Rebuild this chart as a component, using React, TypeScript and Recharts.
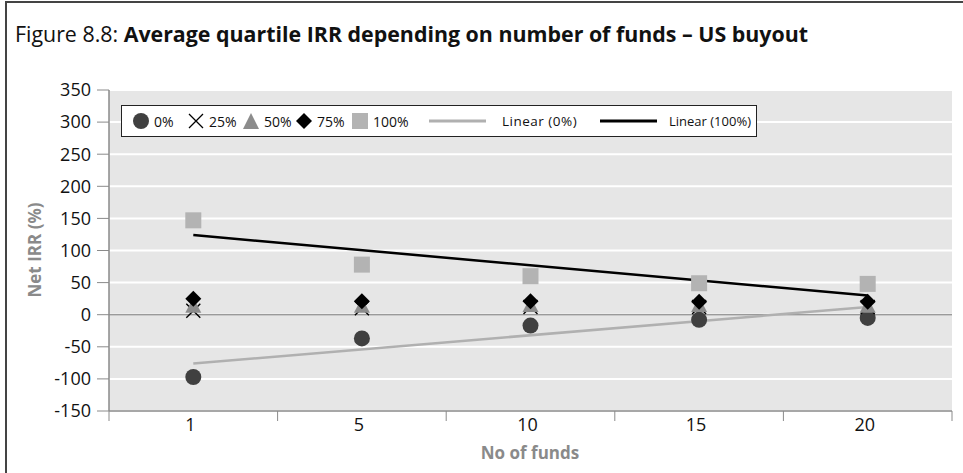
import React from "react";
import {
  ComposedChart,
  Line,
  XAxis,
  YAxis,
  CartesianGrid,
  ReferenceLine,
} from "recharts";

// number of funds (categories)
const funds = ["1", "5", "10", "15", "20"];

// average quartile IRR (%)
const q0 = [-97, -37, -17, -8, -5];
const q25 = [6, 10, 12, 12, 12];
const q50 = [14, 14, 15, 15, 14];
const q75 = [25, 21, 21, 20, 20];
const q100 = [147, 78, 60, 49, 48];

// excel linear trendlines, endpoints
const linear0 = [-76, null, null, null, 12];
const linear100 = [124, null, null, null, 30];

const yTicks = [-150, -100, -50, 0, 50, 100, 150, 200, 250, 300, 350];

const data = funds.map((n, i) => ({
  n,
  q0: q0[i],
  q25: q25[i],
  q50: q50[i],
  q75: q75[i],
  q100: q100[i],
  lin0: linear0[i],
  lin100: linear100[i],
}));

const PLOT_LEFT = 109;
const PLOT_RIGHT = 952;
const BAND = (PLOT_RIGHT - PLOT_LEFT) / funds.length;
const AXIS_GREY = "#8a8a8a";
const FONT = "'Open Sans', sans-serif";

type DotProps = { cx?: number; cy?: number; index?: number };

const Circle = ({ cx, cy, index }: DotProps) =>
  cx == null || cy == null ? null : (
    <circle key={index} cx={cx} cy={cy} r={8} fill="#404040" />
  );

const Cross = ({ cx, cy, index }: DotProps) =>
  cx == null || cy == null ? null : (
    <path
      key={index}
      d={`M${cx - 7},${cy - 7}L${cx + 7},${cy + 7}M${cx + 7},${cy - 7}L${cx - 7},${cy + 7}`}
      stroke="#000"
      strokeWidth={1.4}
      fill="none"
    />
  );

const Triangle = ({ cx, cy, index }: DotProps) =>
  cx == null || cy == null ? null : (
    <path
      key={index}
      d={`M${cx},${cy - 8}L${cx + 8},${cy + 7}L${cx - 8},${cy + 7}Z`}
      fill="#8c8c8c"
    />
  );

const Diamond = ({ cx, cy, index }: DotProps) =>
  cx == null || cy == null ? null : (
    <path
      key={index}
      d={`M${cx},${cy - 8}L${cx + 8},${cy}L${cx},${cy + 8}L${cx - 8},${cy}Z`}
      fill="#000"
    />
  );

const Square = ({ cx, cy, index }: DotProps) =>
  cx == null || cy == null ? null : (
    <rect key={index} x={cx - 8} y={cy - 8} width={16} height={16} fill="#b3b3b3" />
  );

// category labels centred, tick marks on the band boundaries
const FundTick = (props: any) => {
  const { x, y, payload, index } = props;
  return (
    <g>
      <line x1={x - BAND / 2} x2={x - BAND / 2} y1={y} y2={y + 10} stroke={AXIS_GREY} />
      {index === funds.length - 1 && (
        <line x1={x + BAND / 2} x2={x + BAND / 2} y1={y} y2={y + 10} stroke={AXIS_GREY} />
      )}
      <text
        x={x - 3}
        y={y + 20}
        textAnchor="middle"
        fontSize={18}
        fontFamily={FONT}
        fill="#111"
      >
        {payload.value}
      </text>
    </g>
  );
};

// legend entries, x offsets inside the legend box
const legendMarkers: { label: string; at: number; icon: React.ReactNode }[] = [
  { label: "0%", at: 11, icon: <circle cx={8} cy={8} r={8} fill="#404040" /> },
  {
    label: "25%",
    at: 66,
    icon: <path d="M1,1L15,15M15,1L1,15" stroke="#000" strokeWidth={1.3} />,
  },
  { label: "50%", at: 121, icon: <path d="M8,0L16,16L0,16Z" fill="#8c8c8c" /> },
  { label: "75%", at: 174, icon: <path d="M8,0L16,8L8,16L0,8Z" fill="#000" /> },
  { label: "100%", at: 230, icon: <rect x={0} y={0} width={16} height={16} fill="#b3b3b3" /> },
];

const LegendBox = () => (
  <div
    style={{
      position: "absolute",
      left: 121,
      top: 105,
      width: 636,
      height: 32,
      background: "#fff",
      border: "1px solid #222",
      boxSizing: "border-box",
      fontFamily: FONT,
      fontSize: 14,
      color: "#111",
      whiteSpace: "nowrap",
    }}
  >
    {legendMarkers.map((it) => (
      <div
        key={it.label}
        style={{ position: "absolute", left: it.at, top: 6, display: "flex", alignItems: "center", height: 18 }}
      >
        <svg width={16} height={16} style={{ marginRight: 5 }}>
          {it.icon}
        </svg>
        <span>{it.label}</span>
      </div>
    ))}
    <div style={{ position: "absolute", left: 307, top: 6, display: "flex", alignItems: "center", height: 18 }}>
      <svg width={57} height={6} style={{ marginRight: 16 }}>
        <line x1={0} x2={57} y1={3} y2={3} stroke="#b0b0b0" strokeWidth={3} />
      </svg>
      <span style={{ fontSize: 13.5, letterSpacing: 0.5 }}>Linear (0%)</span>
    </div>
    <div style={{ position: "absolute", left: 478, top: 6, display: "flex", alignItems: "center", height: 18 }}>
      <svg width={57} height={6} style={{ marginRight: 12 }}>
        <line x1={0} x2={57} y1={3} y2={3} stroke="#000" strokeWidth={3} />
      </svg>
      <span style={{ fontSize: 13 }}>Linear (100%)</span>
    </div>
  </div>
);

export default function App() {
  return (
    <div
      style={{
        position: "absolute",
        left: 0,
        top: 0,
        width: 963,
        height: 473,
        background: "#fff",
        overflow: "hidden",
      }}
    >
      {/* figure frame: left and top rules */}
      <div
        style={{
          position: "absolute",
          left: 5,
          top: 1,
          width: 970,
          height: 480,
          borderLeft: "2px solid #444",
          borderTop: "2px solid #444",
        }}
      />
      <svg
        width={963}
        height={60}
        style={{ position: "absolute", left: 0, top: 0 }}
      >
        <text
          x={15}
          y={42}
          fontFamily={FONT}
          fontSize={21}
          fill="#111"
          textLength={793}
          lengthAdjust="spacingAndGlyphs"
        >
          <tspan>Figure 8.8: </tspan>
          <tspan fontWeight="bold">
            Average quartile IRR depending on number of funds – US buyout
          </tspan>
        </text>
      </svg>

      <div style={{ position: "absolute", left: 0, top: 0 }}>
        <ComposedChart
          width={963}
          height={473}
          data={data}
          margin={{ top: 90, right: 11, bottom: 0, left: 49 }}
        >
          <CartesianGrid
            vertical={false}
            fill="#e6e6e6"
            stroke="#ffffff"
            strokeWidth={2}
          />
          <XAxis
            dataKey="n"
            type="category"
            scale="band"
            height={62}
            tickSize={0}
            tickMargin={0}
            tickLine={false}
            axisLine={{ stroke: AXIS_GREY, strokeWidth: 1.5 }}
            tick={<FundTick />}
            interval={0}
          />
          <XAxis
            xAxisId="top"
            dataKey="n"
            scale="band"
            orientation="top"
            height={0}
            tick={false}
            tickLine={false}
            axisLine={{ stroke: AXIS_GREY, strokeWidth: 1.5 }}
          />
          <YAxis
            type="number"
            domain={[-150, 350]}
            ticks={yTicks}
            interval={0}
            width={60}
            tickSize={12}
            tickMargin={6}
            tickLine={{ stroke: AXIS_GREY }}
            axisLine={{ stroke: AXIS_GREY, strokeWidth: 1.5 }}
            tick={{ fontSize: 18, fontFamily: FONT, fill: "#111" }}
          />
          <YAxis
            yAxisId="right"
            orientation="right"
            type="number"
            domain={[-150, 350]}
            width={0}
            tick={false}
            tickLine={false}
            axisLine={{ stroke: AXIS_GREY, strokeWidth: 1.5 }}
          />
          <ReferenceLine y={0} stroke="#9a9a9a" strokeWidth={1.5} />

          <Line dataKey="q0" stroke="none" dot={<Circle />} activeDot={false} legendType="none" isAnimationActive={false} />
          <Line dataKey="q25" stroke="none" dot={<Cross />} activeDot={false} legendType="none" isAnimationActive={false} />
          <Line dataKey="q50" stroke="none" dot={<Triangle />} activeDot={false} legendType="none" isAnimationActive={false} />
          <Line dataKey="q75" stroke="none" dot={<Diamond />} activeDot={false} legendType="none" isAnimationActive={false} />
          <Line dataKey="q100" stroke="none" dot={<Square />} activeDot={false} legendType="none" isAnimationActive={false} />
          <Line
            dataKey="lin0"
            stroke="#b0b0b0"
            strokeWidth={2.5}
            dot={false}
            activeDot={false}
            connectNulls
            legendType="none"
            isAnimationActive={false}
          />
          <Line
            dataKey="lin100"
            stroke="#000"
            strokeWidth={2.5}
            dot={false}
            activeDot={false}
            connectNulls
            legendType="none"
            isAnimationActive={false}
          />
        </ComposedChart>
      </div>

      <LegendBox />

      {/* axis titles */}
      <div
        style={{
          position: "absolute",
          left: 34,
          top: 250,
          transform: "translate(-50%, -50%) rotate(-90deg)",
          whiteSpace: "nowrap",
          fontFamily: FONT,
          fontWeight: "bold",
          fontSize: 17,
          color: AXIS_GREY,
        }}
      >
        Net IRR (%)
      </div>
      <div
        style={{
          position: "absolute",
          left: 530,
          top: 452,
          transform: "translate(-50%, -50%)",
          whiteSpace: "nowrap",
          fontFamily: FONT,
          fontWeight: "bold",
          fontSize: 17,
          color: AXIS_GREY,
        }}
      >
        No of funds
      </div>
    </div>
  );
}
